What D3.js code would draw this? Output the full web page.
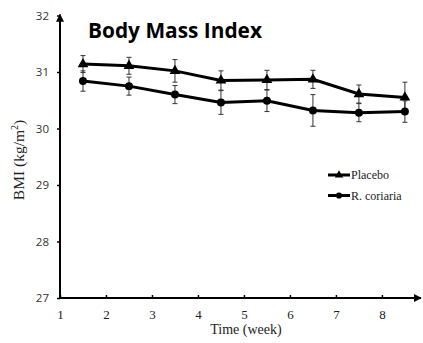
<!DOCTYPE html>
<html>
<head>
<meta charset="utf-8">
<script src="https://cdn.jsdelivr.net/npm/d3@7"></script>
<style>
  body { margin: 0; background: #fff; }
</style>
</head>
<body>
<script>
// data
const weeks = [1.5, 2.5, 3.5, 4.5, 5.5, 6.5, 7.5, 8.5];
const placebo = [31.14, 31.11, 31.02, 30.85, 30.86, 30.87, 30.61, 30.55];
const placeboErr = [0.15, 0.15, 0.2, 0.17, 0.17, 0.16, 0.16, 0.27];
const coriaria = [30.84, 30.75, 30.6, 30.46, 30.49, 30.32, 30.28, 30.3];
const coriariaErr = [0.18, 0.16, 0.16, 0.21, 0.19, 0.28, 0.16, 0.19];
const xTicks = [1, 2, 3, 4, 5, 6, 7, 8];
const yTicks = [27, 28, 29, 30, 31, 32];

const width = 423, height = 343;

const svg = d3.select("body").append("svg")
  .attr("width", width)
  .attr("height", height);

//scales
const x = d3.scaleLinear().domain([1, 8.85]).range([60, 421]);
const y = d3.scaleLinear().domain([27, 32]).range([298, 15.5]);

//arrow heads
const defs = svg.append("defs");
defs.append("marker")
  .attr("id", "arrow")
  .attr("viewBox", "0 0 10 10")
  .attr("refX", 9).attr("refY", 5)
  .attr("markerWidth", 4).attr("markerHeight", 4)
  .attr("orient", "auto")
  .append("path")
  .attr("d", "M0,0L10,5L0,10z")
  .attr("fill", "#000");

//axes
const yAxis = svg.append("g")
  .attr("transform", "translate(60,0)")
  .call(d3.axisLeft(y).tickValues(yTicks).tickSize(3).tickPadding(8).tickFormat(d3.format("d")));
yAxis.select(".domain").remove();
yAxis.selectAll("line").attr("stroke-width", 1.5);
yAxis.selectAll("text")
  .attr("font-family", "'Open Sans', sans-serif")
  .attr("font-size", 11.5)
  .attr("fill", "#333");

const xAxis = svg.append("g")
  .attr("transform", "translate(0,298)")
  .call(d3.axisBottom(x).tickValues(xTicks).tickSize(-3).tickPadding(12));
xAxis.select(".domain").remove();
xAxis.selectAll("line").attr("stroke-width", 1.5);
xAxis.selectAll("text")
  .attr("font-family", "'Liberation Serif', 'Times New Roman', serif")
  .attr("font-size", 13)
  .attr("fill", "#222");

svg.append("line")
  .attr("x1", x(1)).attr("x2", x(8.85))
  .attr("y1", y(27)).attr("y2", y(27))
  .attr("stroke", "#000").attr("stroke-width", 2)
  .attr("marker-end", "url(#arrow)");
svg.append("line")
  .attr("x1", x(1)).attr("x2", x(1))
  .attr("y1", y(27)).attr("y2", y(32) - 1)
  .attr("stroke", "#000").attr("stroke-width", 2)
  .attr("marker-end", "url(#arrow)");

//series
const series = [
  { name: "Placebo", vals: placebo, err: placeboErr, shape: d3.symbolTriangle },
  { name: "R. coriaria", vals: coriaria, err: coriariaErr, shape: d3.symbolCircle }
];

const line = d3.line()
  .x(d => x(d[0]))
  .y(d => y(d[1]));

series.forEach(function(s) {
  const pts = weeks.map((w, i) => [w, s.vals[i], s.err[i]]);

  //error bars
  const eb = svg.append("g").attr("stroke", "#333").attr("stroke-width", 1);
  pts.forEach(function(p) {
    eb.append("line")
      .attr("x1", x(p[0])).attr("x2", x(p[0]))
      .attr("y1", y(p[1] - p[2])).attr("y2", y(p[1] + p[2]));
    [p[1] - p[2], p[1] + p[2]].forEach(function(v) {
      eb.append("line")
        .attr("x1", x(p[0]) - 2.5).attr("x2", x(p[0]) + 2.5)
        .attr("y1", y(v)).attr("y2", y(v));
    });
  });

  svg.append("path")
    .datum(pts)
    .attr("fill", "none")
    .attr("stroke", "#000")
    .attr("stroke-width", 3)
    .attr("d", line);

  svg.append("g").selectAll("path")
    .data(pts)
    .enter().append("path")
    .attr("transform", d => "translate(" + x(d[0]) + "," + y(d[1]) + ")")
    .attr("d", d3.symbol().type(s.shape).size(50))
    .attr("fill", "#000");
});

//legend
const legend = svg.append("g")
  .selectAll("g")
  .data(series)
  .enter().append("g")
  .attr("transform", (d, i) => "translate(328," + (175 + i * 20.5) + ")");

legend.append("line")
  .attr("x1", 0).attr("x2", 22)
  .attr("stroke", "#000").attr("stroke-width", 3);
legend.append("path")
  .attr("transform", "translate(11,0)")
  .attr("d", d => d3.symbol().type(d.shape).size(30)())
  .attr("fill", "#000");
legend.append("text")
  .attr("x", 23)
  .attr("dy", "0.35em")
  .attr("font-family", "'Liberation Serif', 'Times New Roman', serif")
  .attr("font-size", 12)
  .attr("fill", "#222")
  .text(d => d.name);

//title and axis titles
svg.append("text")
  .attr("x", 88).attr("y", 38)
  .attr("font-family", "'Open Sans', sans-serif")
  .attr("font-weight", "bold")
  .attr("font-size", 21.5)
  .attr("textLength", 174)
  .attr("lengthAdjust", "spacingAndGlyphs")
  .attr("fill", "#000")
  .text("Body Mass Index");

svg.append("text")
  .attr("x", 246).attr("y", 334)
  .attr("text-anchor", "middle")
  .attr("font-family", "'Liberation Serif', 'Times New Roman', serif")
  .attr("font-size", 14)
  .attr("fill", "#222")
  .text("Time (week)");

const yt = svg.append("text")
  .attr("transform", "translate(24,160) rotate(-90)")
  .attr("text-anchor", "middle")
  .attr("font-family", "'Liberation Serif', 'Times New Roman', serif")
  .attr("font-size", 15.5)
  .attr("fill", "#222");
yt.append("tspan").text("BMI (kg/m");
yt.append("tspan").attr("font-size", 10).attr("dy", -6).text("2");
yt.append("tspan").attr("dy", 6).text(")");
</script>
</body>
</html>
